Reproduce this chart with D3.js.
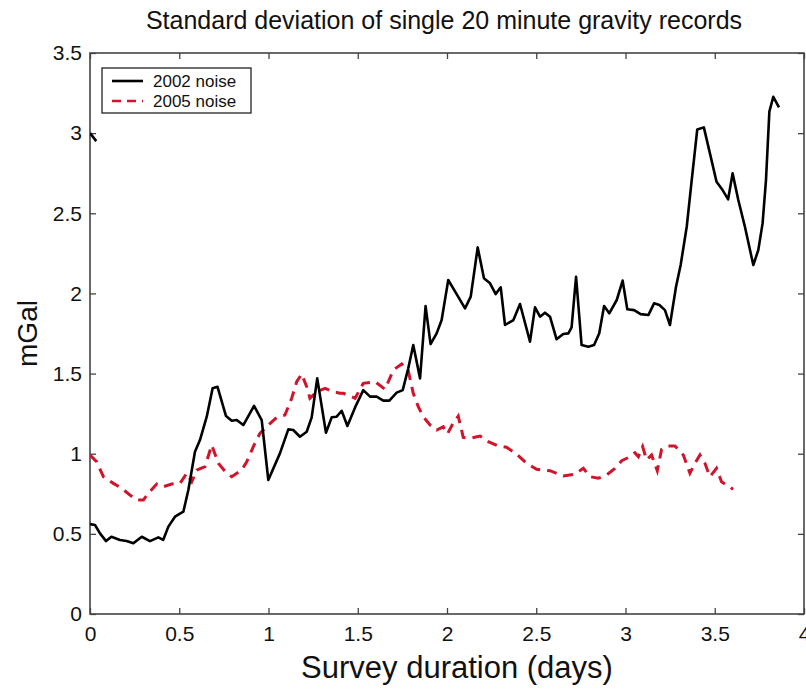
<!DOCTYPE html>
<html>
<head>
<meta charset="utf-8">
<script src="https://cdn.jsdelivr.net/npm/d3@7"></script>
<style>
  body { margin: 0; background: #fff; }
  svg text { font-family: "Liberation Sans", Arial, Helvetica, sans-serif; fill: #111; }
</style>
</head>
<body>
<svg id="chart"></svg>
<script>
// survey duration (days) and std dev (mGal)
const days2002 = [0, 0.028, 0.056, 0.09, 0.12, 0.168, 0.205, 0.243, 0.29, 0.336, 0.383, 0.41, 0.439, 0.476, 0.523, 0.551, 0.588, 0.616, 0.654, 0.687, 0.714, 0.762, 0.794, 0.822, 0.859, 0.919, 0.962, 0.999, 1.064, 1.111, 1.139, 1.176, 1.214, 1.242, 1.273, 1.322, 1.354, 1.382, 1.41, 1.442, 1.485, 1.531, 1.569, 1.606, 1.643, 1.677, 1.718, 1.752, 1.783, 1.811, 1.849, 1.88, 1.908, 1.942, 1.97, 2.007, 2.054, 2.101, 2.133, 2.172, 2.207, 2.241, 2.273, 2.301, 2.325, 2.372, 2.409, 2.465, 2.493, 2.521, 2.549, 2.577, 2.614, 2.651, 2.68, 2.698, 2.723, 2.754, 2.792, 2.824, 2.853, 2.88, 2.909, 2.951, 2.984, 3.01, 3.048, 3.085, 3.128, 3.16, 3.19, 3.221, 3.249, 3.283, 3.309, 3.343, 3.371, 3.402, 3.439, 3.473, 3.51, 3.544, 3.575, 3.6, 3.632, 3.669, 3.716, 3.744, 3.768, 3.787, 3.806, 3.828, 3.86];
const noise2002 = [0.561, 0.555, 0.503, 0.455, 0.482, 0.462, 0.455, 0.441, 0.482, 0.455, 0.478, 0.462, 0.545, 0.607, 0.638, 0.774, 1.012, 1.085, 1.231, 1.408, 1.418, 1.235, 1.206, 1.21, 1.179, 1.298, 1.21, 0.836, 1.002, 1.152, 1.148, 1.106, 1.137, 1.227, 1.47, 1.131, 1.227, 1.231, 1.268, 1.173, 1.289, 1.397, 1.356, 1.356, 1.331, 1.331, 1.381, 1.397, 1.533, 1.678, 1.47, 1.921, 1.684, 1.751, 1.834, 2.084, 1.996, 1.907, 1.98, 2.287, 2.094, 2.063, 1.996, 2.038, 1.803, 1.834, 1.934, 1.699, 1.913, 1.855, 1.88, 1.855, 1.714, 1.747, 1.751, 1.788, 2.104, 1.678, 1.668, 1.678, 1.751, 1.921, 1.876, 1.959, 2.08, 1.901, 1.896, 1.871, 1.865, 1.938, 1.928, 1.896, 1.803, 2.042, 2.177, 2.416, 2.707, 3.023, 3.036, 2.874, 2.697, 2.645, 2.587, 2.749, 2.583, 2.416, 2.177, 2.271, 2.437, 2.707, 3.134, 3.227, 3.161];
// short piece of the 2002 trace that shows at the left edge
const daysWrap = [0, 0.035];
const noiseWrap = [3.0, 2.95];

const days2005 = [0, 0.037, 0.075, 0.131, 0.178, 0.224, 0.262, 0.299, 0.327, 0.374, 0.411, 0.458, 0.504, 0.542, 0.57, 0.598, 0.644, 0.682, 0.719, 0.766, 0.794, 0.85, 0.878, 0.915, 0.952, 0.999, 1.046, 1.092, 1.13, 1.158, 1.186, 1.214, 1.232, 1.27, 1.317, 1.363, 1.40, 1.419, 1.485, 1.531, 1.597, 1.653, 1.699, 1.746, 1.783, 1.811, 1.839, 1.867, 1.905, 1.942, 1.979, 2.002, 2.032, 2.063, 2.091, 2.129, 2.185, 2.231, 2.287, 2.334, 2.39, 2.446, 2.502, 2.577, 2.651, 2.717, 2.764, 2.801, 2.848, 2.894, 2.941, 2.979, 3.025, 3.053, 3.072, 3.096, 3.118, 3.146, 3.178, 3.202, 3.234, 3.277, 3.324, 3.361, 3.389, 3.417, 3.445, 3.473, 3.51, 3.538, 3.566, 3.603];
const noise2005 = [0.992, 0.95, 0.857, 0.815, 0.784, 0.742, 0.711, 0.711, 0.753, 0.811, 0.794, 0.811, 0.815, 0.878, 0.825, 0.898, 0.919, 1.054, 0.94, 0.878, 0.857, 0.898, 0.95, 1.044, 1.127, 1.179, 1.227, 1.241, 1.346, 1.449, 1.497, 1.418, 1.346, 1.387, 1.408, 1.387, 1.377, 1.377, 1.346, 1.439, 1.449, 1.402, 1.522, 1.56, 1.518, 1.377, 1.293, 1.231, 1.179, 1.148, 1.168, 1.123, 1.185, 1.235, 1.102, 1.096, 1.11, 1.075, 1.048, 1.04, 0.998, 0.94, 0.903, 0.894, 0.861, 0.873, 0.909, 0.857, 0.847, 0.867, 0.909, 0.956, 0.981, 1.006, 0.981, 1.044, 0.961, 0.992, 0.894, 1.027, 1.048, 1.048, 0.992, 0.878, 0.94, 0.992, 0.94, 0.857, 0.909, 0.825, 0.805, 0.778];

const xTicks = [0, 0.5, 1, 1.5, 2, 2.5, 3, 3.5, 4];
const yTicks = [0, 0.5, 1, 1.5, 2, 2.5, 3, 3.5];
const seriesNames = ["2002 noise", "2005 noise"];

const width = 806, height = 689;
const margin = {top: 53, right: 2, bottom: 75, left: 90};
const w = width - margin.left - margin.right;
const h = height - margin.top - margin.bottom;

const svg = d3.select("#chart").attr("width", width).attr("height", height);

const x = d3.scaleLinear().domain([0, 4]).range([0, w]);
const y = d3.scaleLinear().domain([0, 3.5]).range([h, 0]);

const g = svg.append("g").attr("transform", `translate(${margin.left},${margin.top})`);

g.append("clipPath").attr("id", "plotclip")
  .append("rect").attr("width", w).attr("height", h);

// axes, ticks inward on all four sides
const axisColor = "#444";
function styleAxis(sel) {
  sel.select(".domain").remove();
  sel.selectAll(".tick line").attr("stroke", axisColor).attr("stroke-width", 1.3);
  sel.selectAll(".tick text").style("font-size", "21px").attr("fill", "#111");
}
g.append("g").attr("transform", `translate(0,${h})`)
  .call(d3.axisBottom(x).tickValues(xTicks).tickFormat(d3.format("")).tickSize(-6).tickPadding(12))
  .call(styleAxis);
g.append("g")
  .call(d3.axisTop(x).tickValues(xTicks).tickSize(-6).tickFormat(""))
  .call(styleAxis);
g.append("g")
  .call(d3.axisLeft(y).tickValues(yTicks).tickFormat(d3.format("")).tickSize(-6).tickPadding(8))
  .call(styleAxis);
g.append("g").attr("transform", `translate(${w},0)`)
  .call(d3.axisRight(y).tickValues(yTicks).tickSize(-6).tickFormat(""))
  .call(styleAxis);

g.append("rect")
  .attr("width", w).attr("height", h)
  .attr("fill", "none").attr("stroke", axisColor).attr("stroke-width", 1.6);

const line = d3.line().x(d => x(d[0])).y(d => y(d[1]));
const lines = g.append("g").attr("clip-path", "url(#plotclip)");

lines.append("path")
  .datum(days2005.map((d, i) => [d, noise2005[i]]))
  .attr("d", line).attr("fill", "none")
  .attr("stroke", "#d0142c").attr("stroke-width", 3)
  .attr("stroke-dasharray", "10,7");

lines.append("path")
  .datum(days2002.map((d, i) => [d, noise2002[i]]))
  .attr("d", line).attr("fill", "none")
  .attr("stroke", "#000").attr("stroke-width", 2.6)
  .attr("stroke-linejoin", "round");

lines.append("path")
  .datum(daysWrap.map((d, i) => [d, noiseWrap[i]]))
  .attr("d", line).attr("fill", "none")
  .attr("stroke", "#000").attr("stroke-width", 2.6);

// legend
const leg = g.append("g").attr("transform", "translate(12,15)");
leg.append("rect").attr("width", 149).attr("height", 45)
  .attr("fill", "#fff").attr("stroke", "#222").attr("stroke-width", 1.3);
const legStyles = [
  {stroke: "#000", dash: null},
  {stroke: "#d0142c", dash: "9,6"}
];
seriesNames.forEach((name, i) => {
  const yy = 13 + i * 20;
  leg.append("line").attr("x1", 10).attr("x2", 41).attr("y1", yy).attr("y2", yy)
    .attr("stroke", legStyles[i].stroke).attr("stroke-width", 2.6)
    .attr("stroke-dasharray", legStyles[i].dash);
  leg.append("text").attr("x", 51).attr("y", yy).attr("dy", "0.35em")
    .style("font-size", "17px").text(name);
});

// titles
svg.append("text")
  .attr("x", margin.left + w / 2 - 3).attr("y", 29)
  .attr("text-anchor", "middle").style("font-size", "25px")
  .text("Standard deviation of single 20 minute gravity records");

svg.append("text")
  .attr("x", margin.left + w / 2 + 10).attr("y", 678)
  .attr("text-anchor", "middle").style("font-size", "31px")
  .text("Survey duration (days)");

svg.append("text")
  .attr("transform", `translate(37,${margin.top + h / 2}) rotate(-90)`)
  .attr("text-anchor", "middle").style("font-size", "28px")
  .text("mGal");
</script>
</body>
</html>
